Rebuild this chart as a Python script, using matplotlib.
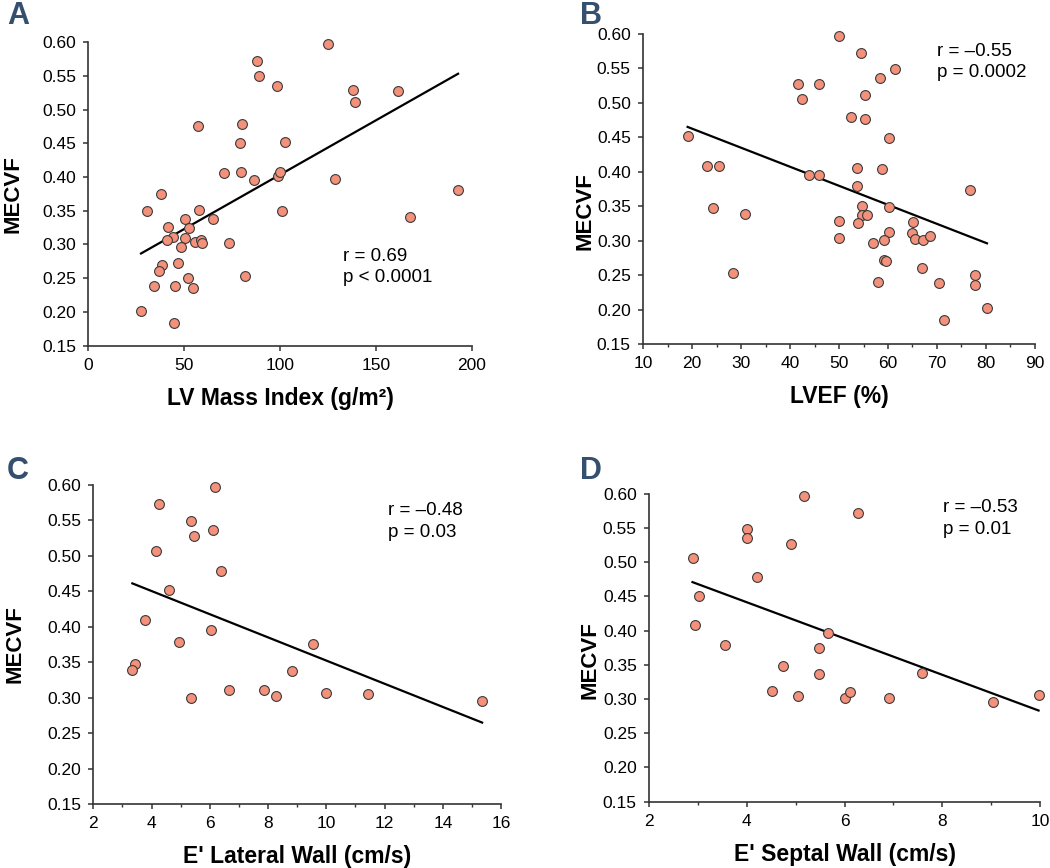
import numpy as np
import matplotlib
matplotlib.use("Agg")
import matplotlib.pyplot as plt

plt.rcParams['font.family'] = ['Liberation Sans', 'DejaVu Sans']

# Panel A: LV Mass Index vs MECVF
a_x = [125, 88, 89, 98.3, 138, 161.8, 139, 57.3, 80.3, 79.4, 102.8, 70.9, 79.8, 86.4, 99.1,
       100.2, 128.9, 192.9, 38.0, 30.5, 57.5, 100.9, 50.2, 65.2, 41.8, 52.6, 44.3, 40.9, 50.2,
       55.6, 58.9, 59.4, 73.5, 167.8, 48.3, 38.2, 46.7, 36.8, 52.1, 34.3, 45.3, 54.7, 81.9,
       27.5, 44.6]
a_y = [0.597, 0.572, 0.549, 0.535, 0.529, 0.528, 0.511, 0.476, 0.479, 0.450, 0.452, 0.406,
       0.408, 0.395, 0.402, 0.407, 0.397, 0.380, 0.375, 0.350, 0.351, 0.349, 0.338, 0.338,
       0.326, 0.325, 0.311, 0.307, 0.310, 0.303, 0.306, 0.302, 0.302, 0.340, 0.296, 0.270,
       0.272, 0.260, 0.250, 0.239, 0.238, 0.235, 0.254, 0.201, 0.184]

# Panel B: LVEF vs MECVF
b_x = [49.9, 54.5, 61.5, 58.3, 41.7, 46.0, 42.5, 55.4, 52.4, 55.4, 60.2, 19.1, 23.0, 25.6,
       43.8, 46.0, 53.6, 58.8, 53.7, 76.8, 24.2, 30.8, 54.7, 60.2, 54.7, 55.7, 50.0, 53.9,
       65.1, 49.9, 60.2, 64.9, 65.6, 67.2, 68.6, 56.9, 59.2, 59.2, 59.6, 28.4, 67.0, 58.0,
       70.5, 77.8, 77.8, 80.2, 71.5]
b_y = [0.597, 0.572, 0.549, 0.536, 0.527, 0.528, 0.506, 0.511, 0.479, 0.477, 0.449, 0.452,
       0.408, 0.408, 0.396, 0.396, 0.406, 0.404, 0.379, 0.374, 0.348, 0.339, 0.351, 0.349,
       0.337, 0.337, 0.328, 0.325, 0.327, 0.304, 0.312, 0.311, 0.302, 0.301, 0.307, 0.297,
       0.301, 0.272, 0.270, 0.253, 0.260, 0.240, 0.239, 0.250, 0.235, 0.202, 0.185]

# Panel C: E' Lateral Wall vs MECVF
c_x = [6.19, 4.27, 5.36, 6.11, 5.46, 4.16, 6.38, 4.60, 3.78, 6.03, 4.94, 9.55, 3.42, 3.34,
       8.83, 5.36, 6.67, 7.87, 8.26, 9.99, 11.44, 15.35]
c_y = [0.597, 0.573, 0.549, 0.536, 0.528, 0.507, 0.479, 0.452, 0.409, 0.396, 0.379, 0.375,
       0.348, 0.339, 0.338, 0.300, 0.311, 0.311, 0.302, 0.306, 0.305, 0.296]

# Panel D: E' Septal Wall vs MECVF
d_x = [5.17, 6.28, 4.00, 4.00, 4.91, 2.89, 4.21, 3.03, 2.94, 5.66, 3.56, 5.48, 4.74, 5.48,
       7.59, 4.52, 5.04, 6.00, 6.12, 6.90, 9.03, 9.97]
d_y = [0.597, 0.572, 0.549, 0.535, 0.527, 0.506, 0.479, 0.451, 0.408, 0.396, 0.379, 0.375,
       0.348, 0.336, 0.338, 0.312, 0.305, 0.301, 0.311, 0.302, 0.296, 0.306]

letters = ['A', 'B', 'C', 'D']
xlabels = ['LV Mass Index (g/m²)', 'LVEF (%)', "E' Lateral Wall (cm/s)", "E' Septal Wall (cm/s)"]
stats = [('r = 0.69', 'p < 0.0001'), ('r = –0.55', 'p = 0.0002'),
         ('r = –0.48', 'p = 0.03'), ('r = –0.53', 'p = 0.01')]
xlims = [(0, 200), (10, 90), (2, 16), (2, 10)]
xmajor = [np.arange(0, 201, 50), np.arange(10, 91, 10), np.arange(2, 17, 2), np.arange(2, 11, 2)]
xminor = [None, np.arange(15, 90, 10), np.arange(3, 16, 2), np.arange(3, 10, 2)]
yticks = [0.15, 0.20, 0.25, 0.30, 0.35, 0.40, 0.45, 0.50, 0.55, 0.60]

positions = [
    [0.0841, 0.6017, 0.3651, 0.3499],
    [0.6124, 0.6037, 0.3733, 0.3571],
    [0.0889, 0.0735, 0.3883, 0.3681],
    [0.6181, 0.0764, 0.3724, 0.3548],
]
stat_pos = [((0.664, 0.293), (0.664, 0.223)),
            ((0.750, 0.945), (0.750, 0.875)),
            ((0.723, 0.918), (0.723, 0.850)),
            ((0.752, 0.955), (0.752, 0.884))]
ylabel_pos = [(-0.168, 0.50), (-0.120, 0.43), (-0.166, 0.50), (-0.125, 0.46)]
letter_pos = [(0.017, 0.981), (0.563, 0.981), (0.017, 0.457), (0.563, 0.457)]

data = [(a_x, a_y), (b_x, b_y), (c_x, c_y), (d_x, d_y)]

fig = plt.figure(figsize=(10.5, 8.68), dpi=100)

for i in range(4):
    ax = fig.add_axes(positions[i])
    xs = np.array(data[i][0])
    ys = np.array(data[i][1])
    ax.scatter(xs, ys, s=50, facecolor='#F4917B', edgecolor='#3a3a3a', linewidth=0.8,
               zorder=3, clip_on=False)
    k, b0 = np.polyfit(xs, ys, 1)
    lx = np.array([xs.min(), xs.max()])
    ax.plot(lx, k * lx + b0, color='black', lw=1.6, zorder=2)
    ax.set_xlim(*xlims[i])
    ax.set_ylim(0.15, 0.60)
    ax.set_xticks(xmajor[i])
    if xminor[i] is not None:
        ax.set_xticks(xminor[i], minor=True)
    ax.set_yticks(yticks)
    ax.set_yticklabels([f'{v:.2f}' for v in yticks])
    for s in ['top', 'right']:
        ax.spines[s].set_visible(False)
    for s in ['left', 'bottom']:
        ax.spines[s].set_linewidth(1.2)
        ax.spines[s].set_color('#333333')
    ax.tick_params(axis='both', which='major', direction='out', length=3.8, width=1.1,
                   labelsize=12.5, pad=5, color='#333333')
    ax.tick_params(axis='x', which='minor', direction='out', length=2.4, width=1.0, color='#333333')
    ax.set_xlabel(xlabels[i], fontsize=16.5, fontweight='bold', labelpad=10)
    ax.set_ylabel('MECVF', fontsize=16, fontweight='bold')
    ax.yaxis.set_label_coords(*ylabel_pos[i])
    for (tx, ty), txt in zip(stat_pos[i], stats[i]):
        ax.text(tx, ty, txt, transform=ax.transAxes, fontsize=13.5, ha='left', va='center')
    fig.text(letter_pos[i][0], letter_pos[i][1], letters[i], fontsize=22, fontweight='bold',
             color='#34506e', ha='center', va='center')

fig.savefig('out.png', dpi=100)
